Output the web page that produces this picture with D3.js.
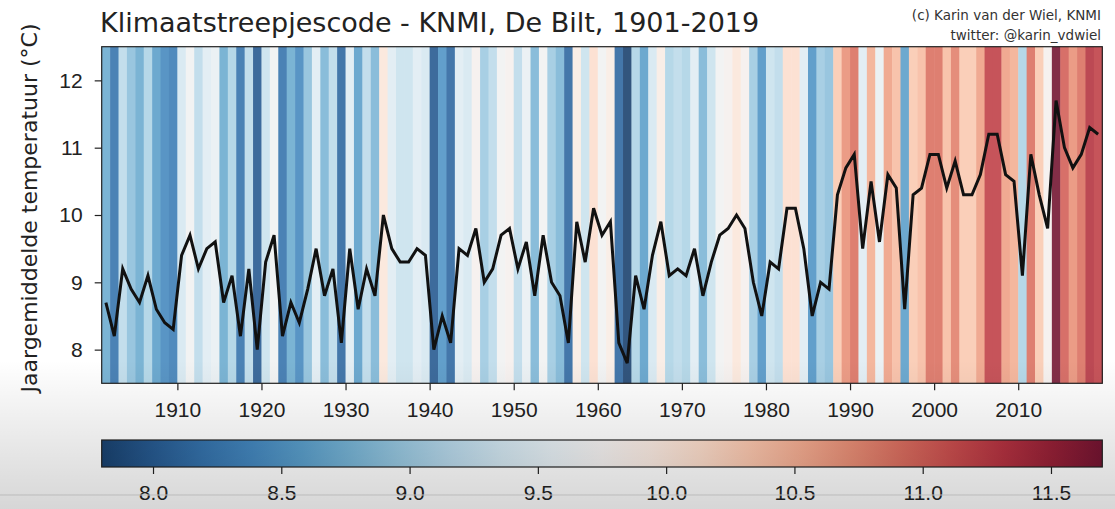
<!DOCTYPE html>
<html>
<head>
<meta charset="utf-8">
<script src="https://cdn.jsdelivr.net/npm/d3@7"></script>
<style>
  body { margin: 0; background: #fff; }
  svg { display: block; font-family: "DejaVu Sans", sans-serif; }
</style>
</head>
<body>
<svg id="chart"></svg>
<script>
// Jaarlijkse gemiddelde temperatuur De Bilt, 1901-2019
const years = d3.range(1901, 2020);
const temps = [
  8.7, 8.2, 9.2, 8.9, 8.7, 9.1, 8.6, 8.4, 8.3, 9.4,
  9.7, 9.2, 9.5, 9.6, 8.7, 9.1, 8.2, 9.2, 8.0, 9.3,
  9.7, 8.2, 8.7, 8.4, 8.9, 9.5, 8.8, 9.2, 8.1, 9.5,
  8.6, 9.2, 8.8, 10.0, 9.5, 9.3, 9.3, 9.5, 9.4, 8.0,
  8.5, 8.1, 9.5, 9.4, 9.8, 9.0, 9.2, 9.7, 9.8, 9.2,
  9.6, 8.8, 9.7, 9.0, 8.8, 8.1, 9.9, 9.3, 10.1, 9.7,
  9.9, 8.1, 7.8, 9.1, 8.6, 9.4, 9.9, 9.1, 9.2, 9.1,
  9.5, 8.8, 9.3, 9.7, 9.8, 10.0, 9.8, 9.0, 8.5, 9.3,
  9.2, 10.1, 10.1, 9.5, 8.5, 9.0, 8.9, 10.3, 10.7, 10.9,
  9.5, 10.5, 9.6, 10.6, 10.4, 8.6, 10.3, 10.4, 10.9, 10.9,
  10.4, 10.8, 10.3, 10.3, 10.6, 11.2, 11.2, 10.6, 10.5, 9.1,
  10.9, 10.3, 9.8, 11.7, 11.0, 10.7, 10.9, 11.3, 11.2
];
const yTicks = [8, 9, 10, 11, 12];
const xTicks = [1910, 1920, 1930, 1940, 1950, 1960, 1970, 1980, 1990, 2000, 2010];
const cbTicks = [8.0, 8.5, 9.0, 9.5, 10.0, 10.5, 11.0, 11.5];

const width = 1115, height = 509;
const svg = d3.select("#chart").attr("width", width).attr("height", height);

const pLeft = 101.7, pRight = 1102.3, pTop = 46.7, pBottom = 383.3;

const x = d3.scaleLinear().domain([1901, 2020]).range([pLeft, pRight]);
const y = d3.scaleLinear().domain([7.5, 12.5]).range([pBottom, pTop]);

// RdBu_r tussen min en max, iets verbleekt zoals op de video
const tMin = d3.min(temps), tMax = d3.max(temps);
const rdbu = d3.scaleSequential((t) => d3.interpolateRdBu(1 - t)).domain([tMin, tMax]);
const color = (v, wash = 0.18) => d3.interpolateRgb(rdbu(v), "#ffffff")(wash);

const data = years.map((yr, i) => ({ year: yr, t: temps[i] }));

// stripes
svg.append("g")
  .selectAll("rect")
  .data(data)
  .join("rect")
  .attr("x", (d) => x(d.year))
  .attr("y", pTop)
  .attr("width", (d) => x(d.year + 1) - x(d.year) + 0.5)
  .attr("height", pBottom - pTop)
  .attr("fill", (d) => color(d.t));

// line
const line = d3.line()
  .x((d) => x(d.year + 0.5))
  .y((d) => y(d.t));

svg.append("path")
  .datum(data)
  .attr("fill", "none")
  .attr("stroke", "#111")
  .attr("stroke-width", 3)
  .attr("stroke-linejoin", "miter")
  .attr("d", line);

// frame
svg.append("rect")
  .attr("x", pLeft).attr("y", pTop)
  .attr("width", pRight - pLeft).attr("height", pBottom - pTop)
  .attr("fill", "none").attr("stroke", "#222").attr("stroke-width", 1.2);

// axes
const yAxis = svg.append("g")
  .attr("transform", `translate(${pLeft},0)`)
  .call(d3.axisLeft(y).tickValues(yTicks).tickFormat(d3.format("d")).tickSize(7).tickPadding(12));
const xAxis = svg.append("g")
  .attr("transform", `translate(0,${pBottom})`)
  .call(d3.axisBottom(x).tickValues(xTicks).tickFormat(d3.format("d")).tickSize(7).tickPadding(12));

[yAxis, xAxis].forEach((g) => {
  g.select(".domain").remove();
  g.selectAll("line").attr("stroke", "#222").attr("stroke-width", 1.2);
  g.selectAll("text").attr("fill", "#222").style("font-size", "21px");
});

// labels
svg.append("text")
  .attr("x", 100).attr("y", 32)
  .attr("fill", "#222")
  .style("font-size", "27px")
  .text("Klimaatstreepjescode - KNMI, De Bilt, 1901-2019");

svg.append("text")
  .attr("x", 1101).attr("y", 20)
  .attr("text-anchor", "end")
  .attr("fill", "#333")
  .style("font-size", "13.5px")
  .text("(c) Karin van der Wiel, KNMI");
svg.append("text")
  .attr("x", 1101).attr("y", 40)
  .attr("text-anchor", "end")
  .attr("fill", "#333")
  .style("font-size", "13.5px")
  .text("twitter: @karin_vdwiel");

svg.append("text")
  .attr("transform", "translate(37,208) rotate(-90)")
  .attr("text-anchor", "middle")
  .attr("fill", "#222")
  .style("font-size", "22px")
  .text("Jaargemiddelde temperatuur (°C)");

// colorbar
const cb = d3.scaleLinear().domain([tMin, tMax]).range([pLeft, pRight]);
const cbTop = 440, cbBottom = 467;
const defs = svg.append("defs");
const grad = defs.append("linearGradient")
  .attr("id", "cbgrad").attr("x1", "0%").attr("x2", "100%");
d3.range(0, 1.0001, 0.05).forEach((t) => {
  grad.append("stop")
    .attr("offset", `${t * 100}%`)
    .attr("stop-color", color(tMin + t * (tMax - tMin), 0.08));
});
svg.append("rect")
  .attr("x", pLeft).attr("y", cbTop)
  .attr("width", pRight - pLeft).attr("height", cbBottom - cbTop)
  .attr("fill", "url(#cbgrad)")
  .attr("stroke", "#222").attr("stroke-width", 1.2);

const cbAxis = svg.append("g")
  .attr("transform", `translate(0,${cbBottom})`)
  .call(d3.axisBottom(cb).tickValues(cbTicks).tickFormat(d3.format(".1f")).tickSize(7).tickPadding(11));
cbAxis.select(".domain").remove();
cbAxis.selectAll("line").attr("stroke", "#222").attr("stroke-width", 1.2);
cbAxis.selectAll("text").attr("fill", "#222").style("font-size", "21px");

// grijze schaduw onderaan (video-overlay)
const shade = defs.append("linearGradient")
  .attr("id", "shade").attr("x1", 0).attr("x2", 0).attr("y1", 0).attr("y2", 1);
shade.append("stop").attr("offset", "0%").attr("stop-color", "#000").attr("stop-opacity", 0);
shade.append("stop").attr("offset", "100%").attr("stop-color", "#000").attr("stop-opacity", 0.16);
svg.append("rect")
  .attr("x", 0).attr("y", 360).attr("width", width).attr("height", height - 360)
  .attr("fill", "url(#shade)")
  .attr("pointer-events", "none");
svg.append("line")
  .attr("x1", 0).attr("x2", width).attr("y1", 495).attr("y2", 495)
  .attr("stroke", "#bbb").attr("stroke-width", 1);
</script>
</body>
</html>
